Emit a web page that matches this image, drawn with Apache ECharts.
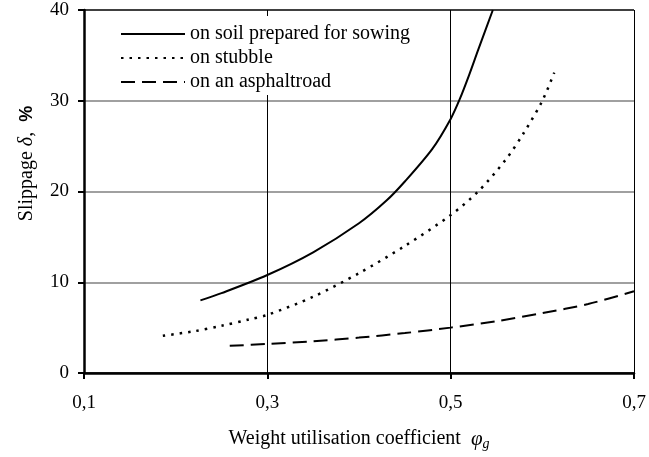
<!DOCTYPE html>
<html><head><meta charset="utf-8">
<script src="https://cdn.jsdelivr.net/npm/echarts@6/dist/echarts.min.js"></script>
<style>html,body{margin:0;padding:0;background:#fff}#c{width:649px;height:457px}</style>
</head><body><div id="c"></div>
<script>
// Tick settings
const xMin = 0.1, xMax = 0.7, xStep = 0.2;
const yMin = 0, yMax = 40, yStep = 10;

const seriesNames = ['on soil prepared for sowing', 'on stubble', 'on an asphaltroad'];

// on soil prepared for sowing
const soilX = [0.227, 0.25, 0.30, 0.35, 0.40, 0.43, 0.45, 0.48, 0.50, 0.51, 0.52, 0.53, 0.546];
const soilY = [8.0, 8.8, 10.8, 13.3, 16.5, 19.0, 21.1, 24.7, 28.0, 30.2, 32.8, 35.6, 40.0];

// on stubble
const stubX = [0.186, 0.22, 0.25, 0.28, 0.30, 0.35, 0.40, 0.45, 0.50, 0.53, 0.56, 0.58, 0.60, 0.613];
const stubY = [4.1, 4.6, 5.2, 5.9, 6.4, 8.4, 11.0, 14.0, 17.4, 20.0, 23.5, 26.5, 30.0, 33.1];

// on an asphalt road
const asphX = [0.259, 0.30, 0.35, 0.40, 0.45, 0.50, 0.55, 0.60, 0.65, 0.70];
const asphY = [3.0, 3.2, 3.5, 3.9, 4.4, 5.0, 5.7, 6.6, 7.6, 9.0];

const pairs = (xs, ys) => xs.map((x, i) => [x, ys[i]]);
const FONT = '"Liberation Serif", "Times New Roman", serif';

const chart = echarts.init(document.getElementById('c'));
chart.setOption({
  animation: false,
  backgroundColor: '#fff',
  textStyle: { fontFamily: FONT, color: '#000' },
  grid: { left: 84, right: 15, top: 10, bottom: 84, containLabel: false },
  legend: {
    orient: 'vertical', left: 112, top: 16,
    padding: [8, 6, 3, 8],
    backgroundColor: '#fff',
    itemWidth: 64, itemHeight: 14, itemGap: 4,
    itemStyle: { opacity: 0 },
    textStyle: { fontFamily: FONT, fontSize: 20, color: '#000' },
    data: seriesNames
  },
  xAxis: {
    type: 'value', min: xMin, max: xMax, interval: xStep,
    name: 'Weight utilisation coefficient  {i|φ}{s|g}',
    nameLocation: 'middle', nameGap: 54,
    nameTextStyle: {
      fontFamily: FONT, fontSize: 20, color: '#000',
      rich: {
        i: { fontFamily: FONT, fontSize: 21, fontStyle: 'italic', color: '#000' },
        s: { fontFamily: FONT, fontSize: 14, fontStyle: 'italic', color: '#000', padding: [10, 0, 0, 0] }
      }
    },
    axisLine: { show: true, onZero: false, lineStyle: { color: '#000', width: 2.5 } },
    axisTick: { show: true, inside: false, length: 6, lineStyle: { color: '#000', width: 2 } },
    axisLabel: { margin: 21, fontFamily: FONT, fontSize: 19, color: '#000',
      formatter: v => v.toFixed(1).replace('.', ',') },
    splitLine: { show: true, lineStyle: { color: '#000', width: 1 } }
  },
  yAxis: {
    type: 'value', min: yMin, max: yMax, interval: yStep,
    name: 'Slippage {i|δ},  {b|%}',
    nameLocation: 'middle', nameGap: 47, nameRotate: 90,
    nameTextStyle: {
      fontFamily: FONT, fontSize: 20, color: '#000',
      padding: [0, 0, 0, 56],
      rich: {
        i: { fontFamily: FONT, fontSize: 20, fontStyle: 'italic', color: '#000' },
        b: { fontFamily: '"Liberation Sans", Arial, sans-serif', fontSize: 18, fontWeight: 'bold', color: '#000' }
      }
    },
    axisLine: { show: true, onZero: false, lineStyle: { color: '#000', width: 2.5 } },
    axisTick: { show: true, inside: false, length: 6, lineStyle: { color: '#000', width: 2 } },
    axisLabel: { margin: 15, fontFamily: FONT, fontSize: 19, color: '#000' },
    splitLine: { show: true, lineStyle: { color: ['#000', '#808080', '#808080', '#808080', '#000'], width: 1.5 } }
  },
  series: [
    { name: seriesNames[0], type: 'line', data: pairs(soilX, soilY), smooth: 0.3,
      showSymbol: false, symbol: 'none', lineStyle: { color: '#000', width: 2, type: 'solid' }, itemStyle: { color: '#000' } },
    { name: seriesNames[1], type: 'line', data: pairs(stubX, stubY), smooth: 0.3,
      showSymbol: false, symbol: 'none', lineStyle: { color: '#000', width: 2.5, type: [2.5, 6] }, itemStyle: { color: '#000' } },
    { name: seriesNames[2], type: 'line', data: pairs(asphX, asphY), smooth: 0.3,
      showSymbol: false, symbol: 'none', lineStyle: { color: '#000', width: 2, type: [14, 7] }, itemStyle: { color: '#000' } }
  ]
});
</script>
</body></html>
